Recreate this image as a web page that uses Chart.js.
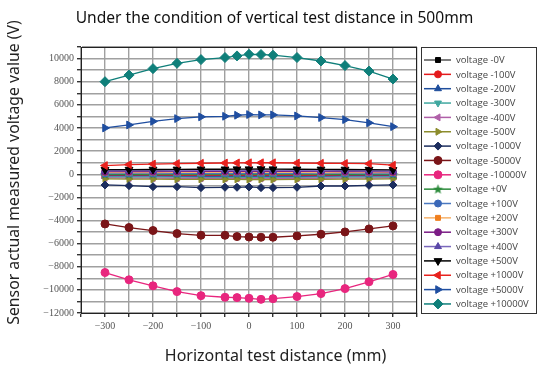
<!DOCTYPE html>
<html><head><meta charset="utf-8">
<script src="https://cdn.jsdelivr.net/npm/chart.js@4"></script>
<style>html,body{margin:0;padding:0;background:#fff;}#wrap{width:541px;height:365px;position:relative;}</style>
</head><body><div id="wrap"><canvas id="c" width="541" height="365"></canvas></div>
<script>
const positions = [-300,-250,-200,-150,-100,-50,-25,0,25,50,100,150,200,250,300];
const seriesNames = ['voltage -0V','voltage -100V','voltage -200V','voltage -300V','voltage -400V','voltage -500V','voltage -1000V','voltage -5000V','voltage -10000V','voltage +0V','voltage +100V','voltage +200V','voltage +300V','voltage +400V','voltage +500V','voltage +1000V','voltage +5000V','voltage +10000V'];
const n0 = [40,40,50,50,50,50,60,60,60,50,50,50,40,40,30];
const n100 = [-90,-90,-100,-100,-100,-110,-110,-110,-110,-110,-100,-100,-100,-90,-90];
const n200 = [-160,-170,-170,-180,-180,-190,-190,-190,-190,-190,-180,-180,-170,-170,-160];
const n300 = [-240,-250,-260,-260,-270,-270,-280,-280,-280,-280,-270,-260,-260,-250,-240];
const n400 = [-320,-330,-340,-350,-350,-360,-360,-360,-370,-360,-350,-350,-340,-330,-320];
const n500 = [-400,-420,-430,-440,-440,-450,-450,-460,-460,-460,-450,-440,-430,-420,-400];
const n1000 = [-930,-990,-1080,-1080,-1160,-1130,-1130,-1100,-1160,-1160,-1130,-1020,-1020,-960,-930];
const n5000 = [-4300,-4610,-4870,-5130,-5280,-5280,-5390,-5430,-5450,-5450,-5340,-5190,-4990,-4730,-4470];
const n10000 = [-8500,-9130,-9650,-10150,-10500,-10640,-10670,-10730,-10820,-10760,-10580,-10320,-9890,-9300,-8670];
const p0 = [-10,-10,0,0,0,0,0,10,10,0,0,0,-10,-10,-20];
const p100 = [60,70,70,80,80,80,80,90,90,80,80,70,70,60,60];
const p200 = [140,150,150,160,160,160,170,170,170,160,160,150,150,140,130];
const p300 = [220,230,230,240,240,250,250,250,250,250,240,240,230,220,210];
const p400 = [300,310,320,320,330,330,330,340,340,330,330,320,310,300,290];
const p500 = [390,400,410,420,430,430,440,440,450,440,430,420,410,400,380];
const p1000 = [750,830,880,920,950,970,980,990,990,990,970,950,930,910,780];
const p5000 = [4000,4260,4570,4810,4960,5010,5100,5160,5130,5130,5040,4900,4720,4440,4110];
const p10000 = [8000,8570,9130,9590,9910,10090,10230,10370,10350,10290,10090,9790,9390,8920,8230];
const xTickLabels = [-300,-200,-100,0,100,200,300];
const yTickLabels = [-12000,-10000,-8000,-6000,-4000,-2000,0,2000,4000,6000,8000,10000];
const titleText = 'Under the condition of vertical test distance in 500mm';
const xTitleText = 'Horizontal test distance (mm)';
const yTitleText = 'Sensor actual measured voltage value (V)';

function starCanvas(color){
  const c=document.createElement('canvas');c.width=11;c.height=11;
  const g=c.getContext('2d');g.fillStyle=color;g.beginPath();
  for(let i=0;i<10;i++){const r=i%2?2.2:5.3;const a=-Math.PI/2+i*Math.PI/5;
    const x=5.5+r*Math.cos(a),y=5.8+r*Math.sin(a);i?g.lineTo(x,y):g.moveTo(x,y);}
  g.closePath();g.fill();return c;
}
const allValues=[n0,n100,n200,n300,n400,n500,n1000,n5000,n10000,p0,p100,p200,p300,p400,p500,p1000,p5000,p10000];
const styles=[
 {line:'#555555',mark:'#000000',ps:'rect',rot:0,r:3.5},
 {line:'#e41a1c',mark:'#e41a1c',ps:'circle',rot:0,r:3.5},
 {line:'#1f4e9c',mark:'#1f4e9c',ps:'triangle',rot:0,r:4},
 {line:'#40a8a0',mark:'#40a8a0',ps:'triangle',rot:180,r:4},
 {line:'#b060a8',mark:'#b060a8',ps:'triangle',rot:270,r:4},
 {line:'#8c8c2c',mark:'#8c8c2c',ps:'triangle',rot:90,r:4},
 {line:'#1c2d5e',mark:'#1c2d5e',ps:'rectRot',rot:0,r:4},
 {line:'#7a1518',mark:'#7a1518',ps:'circle',rot:0,r:4},
 {line:'#e8267e',mark:'#e8267e',ps:'circle',rot:0,r:4},
 {line:'#2a8a3a',mark:'#2a8a3a',ps:starCanvas('#2a8a3a'),rot:0,r:4},
 {line:'#4a78c0',mark:'#3a68b8',ps:'circle',rot:0,r:3.5},
 {line:'#f6b26b',mark:'#f07f1f',ps:'rect',rot:0,r:3.5},
 {line:'#7b1c85',mark:'#7b1c85',ps:'circle',rot:0,r:3.5},
 {line:'#7a68bc',mark:'#5a48a8',ps:'triangle',rot:0,r:4},
 {line:'#000000',mark:'#000000',ps:'triangle',rot:180,r:4.5},
 {line:'#e8221e',mark:'#e8221e',ps:'triangle',rot:270,r:4.5},
 {line:'#1f4ea0',mark:'#1f4ea0',ps:'triangle',rot:90,r:4.5},
 {line:'#0f7f7a',mark:'#0f7f7a',ps:'rectRot',rot:0,r:5}
];
const datasets=seriesNames.map((name,i)=>({
  label:name,
  data:positions.map((x,j)=>({x:x,y:allValues[i][j]})),
  borderColor:styles[i].line,backgroundColor:styles[i].mark,
  pointBackgroundColor:styles[i].mark,pointBorderColor:styles[i].mark,
  pointStyle:styles[i].ps,pointRotation:styles[i].rot,pointRadius:styles[i].r,
  borderWidth:1.3,pointBorderWidth:1,tension:0,order:seriesNames.length-1-i
}));
const fmt=v=>(v<0?'\u2212'+Math.abs(v):String(v));

const frame={id:'frame',afterDraw(chart){
  const a=chart.chartArea,ctx=chart.ctx;ctx.save();
  ctx.strokeStyle='#222';ctx.lineWidth=1;ctx.strokeRect(a.left+0.5,a.top+0.5,a.right-a.left-1,a.bottom-a.top);
  // titles
  ctx.fillStyle='#111';ctx.textAlign='center';ctx.textBaseline='alphabetic';
  ctx.font='15.6px "Noto Sans"';ctx.fillText(titleText,274.5,23);
  ctx.fillStyle='#222';
  ctx.font='16px "Noto Sans"';ctx.fillText(xTitleText,275.5,361);
  ctx.save();ctx.translate(19,172.5);ctx.rotate(-Math.PI/2);
  ctx.font='15.8px "Noto Sans"';ctx.fillText(yTitleText,0,0);ctx.restore();
  // legend
  ctx.strokeStyle='#333';ctx.lineWidth=1;ctx.strokeRect(421.5,47.5,115,266);
  ctx.font='9.5px "Open Sans"';ctx.textBaseline='middle';ctx.textAlign='left';
  chart.data.datasets.forEach((ds,i)=>{
    const y=60+i*14.35;
    ctx.strokeStyle=ds.borderColor;ctx.lineWidth=1.5;ctx.beginPath();ctx.moveTo(424,y);ctx.lineTo(451,y);ctx.stroke();
    ctx.fillStyle=ds.pointBackgroundColor;ctx.strokeStyle=ds.pointBorderColor;ctx.lineWidth=1;
    Chart.helpers.drawPoint(ctx,{pointStyle:ds.pointStyle,rotation:ds.pointRotation,radius:ds.pointRadius,borderWidth:1},438,y);
    ctx.fillStyle='#444';ctx.fillText(ds.label,456,y+0.5);
  });
  ctx.restore();
}};

new Chart(document.getElementById('c'),{
  type:'line',
  data:{datasets},
  options:{
    responsive:false,animation:false,
    layout:{padding:{left:0,right:124,top:47,bottom:0}},
    plugins:{legend:{display:false},tooltip:{enabled:false},title:{display:false}},
    scales:{
      x:{type:'linear',min:-350,max:350,
        ticks:{stepSize:50,autoSkip:false,maxRotation:0,color:'#555',font:{family:'"Liberation Serif"',size:10},
          callback:v=>xTickLabels.includes(v)?fmt(v):''},
        grid:{color:'#a0a0a0',lineWidth:1.4,tickLength:4,tickColor:'#333'},
        border:{color:'#222',width:1},
        afterFit(s){s.height=52;s.paddingLeft=0;s.paddingRight=0;}
      },
      y:{type:'linear',min:-12000,max:11000,
        ticks:{stepSize:1000,autoSkip:false,color:'#555',font:{family:'"Liberation Serif"',size:10},
          callback:v=>yTickLabels.includes(v)?fmt(v):''},
        grid:{color:'#a0a0a0',lineWidth:1.4,tickLength:4,tickColor:'#333'},
        border:{color:'#222',width:1},
        afterFit(s){s.width=81;s.paddingTop=0;s.paddingBottom=0;}
      }
    }
  },
  plugins:[frame]
});
</script></body></html>
